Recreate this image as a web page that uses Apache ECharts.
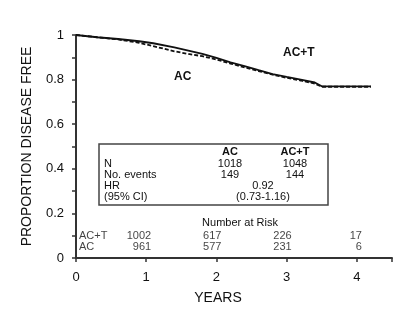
<!DOCTYPE html>
<html>
<head>
<meta charset="utf-8">
<script src="https://cdn.jsdelivr.net/npm/echarts@6/dist/echarts.min.js"></script>
<style>
  html, body { margin: 0; padding: 0; background: #fff; }
  #main { width: 400px; height: 331px; }
</style>
</head>
<body>
<div id="main"></div>
<script>
// survival curves (years, proportion disease free)
var years = [0, 0.3, 0.6, 0.9, 1.1, 1.4, 1.6, 1.8, 2.0, 2.2, 2.4, 2.6, 2.8, 3.0, 3.2, 3.4, 3.5, 4.2];
var acT = [1.0, 0.99, 0.982, 0.972, 0.963, 0.945, 0.93, 0.915, 0.897, 0.877, 0.86, 0.842, 0.825, 0.812, 0.8, 0.787, 0.77, 0.77];
var ac = [1.0, 0.99, 0.98, 0.965, 0.95, 0.927, 0.915, 0.905, 0.89, 0.872, 0.855, 0.838, 0.822, 0.808, 0.796, 0.782, 0.768, 0.768];

// number at risk
var riskYears = [1, 2, 3, 4];
var riskAcT = [1002, 617, 226, 17];
var riskAc = [961, 577, 231, 6];

// summary table
var tableRows = ["N", "No. events", "HR", "(95% CI)"];
var tableAc = ["1018", "149"];
var tableAcT = ["1048", "144"];
var hrText = ["0.92", "(0.73-1.16)"];

var font = "Liberation Sans, Arial, sans-serif";
var myChart = echarts.init(document.getElementById("main"));

function pairs(xs, ys) {
  return xs.map(function (x, i) { return [x, ys[i]]; });
}

// rows of the risk table sit at fixed heights inside the plot
var rowAcT = 0.099, rowAc = 0.049;

var riskLabel = {
  show: true,
  position: "inside",
  align: "right",
  offset: [5, 0],
  fontFamily: font,
  fontSize: 11,
  color: "#111",
  formatter: function (p) { return p.value[2]; }
};

var graphics = [];
// curve labels
graphics.push({ type: "text", left: 174, top: 71, style: { text: "AC", font: "bold 12px " + font, fill: "#111" } });
graphics.push({ type: "text", left: 283, top: 47, style: { text: "AC+T", font: "bold 12px " + font, fill: "#111" } });
// table box
graphics.push({ type: "rect", shape: { x: 99, y: 144, width: 229, height: 61 }, style: { fill: "#fff", stroke: "#444", lineWidth: 1.5 } });
graphics.push({ type: "text", x: 230, y: 152, style: { text: "AC", font: "bold 11px " + font, fill: "#111", align: "center", verticalAlign: "middle" } });
graphics.push({ type: "text", x: 295, y: 152, style: { text: "AC+T", font: "bold 11px " + font, fill: "#111", align: "center", verticalAlign: "middle" } });
var rowY = [163.5, 175, 186, 197];
tableRows.forEach(function (t, i) {
  graphics.push({ type: "text", x: 104, y: rowY[i], style: { text: t, font: "11px " + font, fill: "#111", verticalAlign: "middle" } });
});
tableAc.forEach(function (t, i) {
  graphics.push({ type: "text", x: 230, y: rowY[i], style: { text: t, font: "11px " + font, fill: "#111", align: "center", verticalAlign: "middle" } });
});
tableAcT.forEach(function (t, i) {
  graphics.push({ type: "text", x: 295, y: rowY[i], style: { text: t, font: "11px " + font, fill: "#111", align: "center", verticalAlign: "middle" } });
});
hrText.forEach(function (t, i) {
  graphics.push({ type: "text", x: 263, y: rowY[i + 2], style: { text: t, font: "11px " + font, fill: "#111", align: "center", verticalAlign: "middle" } });
});
graphics.push({ type: "text", x: 240, y: 223, style: { text: "Number at Risk", font: "11px " + font, fill: "#111", align: "center", verticalAlign: "middle" } });
graphics.push({ type: "text", x: 218, y: 298, style: { text: "YEARS", font: "14px " + font, fill: "#111", align: "center", verticalAlign: "middle" } });

var option = {
  animation: false,
  grid: { left: 76, right: 8, top: 35, bottom: 73 },
  xAxis: {
    type: "value",
    min: 0,
    max: 4.5,
    interval: 1,
    splitLine: { show: false },
    axisLine: { lineStyle: { color: "#333", width: 2 } },
    axisTick: { length: 4, lineStyle: { color: "#333", width: 1.5 } },
    axisLabel: {
      margin: 13,
      fontFamily: font,
      fontSize: 13,
      color: "#111",
      formatter: function (v) { return v <= 4 ? String(v) : ""; }
    }
  },
  yAxis: {
    type: "value",
    min: 0,
    max: 1,
    interval: 0.1,
    name: "PROPORTION DISEASE FREE",
    nameLocation: "middle",
    nameGap: 42,
    nameTextStyle: { fontFamily: font, fontSize: 14, color: "#111" },
    splitLine: { show: false },
    axisLine: { show: true, lineStyle: { color: "#333", width: 2 } },
    axisTick: { show: true, length: 4, lineStyle: { color: "#333", width: 1.5 } },
    axisLabel: {
      margin: 12,
      fontFamily: font,
      fontSize: 13,
      color: "#111",
      formatter: function (v) {
        var k = Math.round(v * 10);
        if (k % 2 !== 0) return "";
        return k === 0 ? "0" : k === 10 ? "1" : (k / 10).toFixed(1);
      }
    }
  },
  series: [
    {
      name: "AC+T",
      type: "line",
      data: pairs(years, acT),
      symbol: "none",
      lineStyle: { color: "#111", width: 1.8 },
      z: 3
    },
    {
      name: "AC",
      type: "line",
      data: pairs(years, ac),
      symbol: "none",
      lineStyle: { color: "#111", width: 1.8, type: [4, 2] },
      z: 3
    },
    {
      name: "risk",
      type: "scatter",
      symbolSize: 0,
      silent: true,
      data: riskYears.map(function (x, i) { return [x, rowAcT, riskAcT[i]]; })
        .concat(riskYears.map(function (x, i) { return [x, rowAc, riskAc[i]]; })),
      label: riskLabel
    },
    {
      name: "riskRows",
      type: "scatter",
      symbolSize: 0,
      silent: true,
      data: [[0, rowAcT, "AC+T"], [0, rowAc, "AC"]],
      label: {
        show: true,
        position: "inside",
        align: "left",
        offset: [3, 0],
        fontFamily: font,
        fontSize: 11,
        color: "#111",
        formatter: function (p) { return p.value[2]; }
      }
    }
  ],
  graphic: graphics
};

myChart.setOption(option);
</script>
</body>
</html>
